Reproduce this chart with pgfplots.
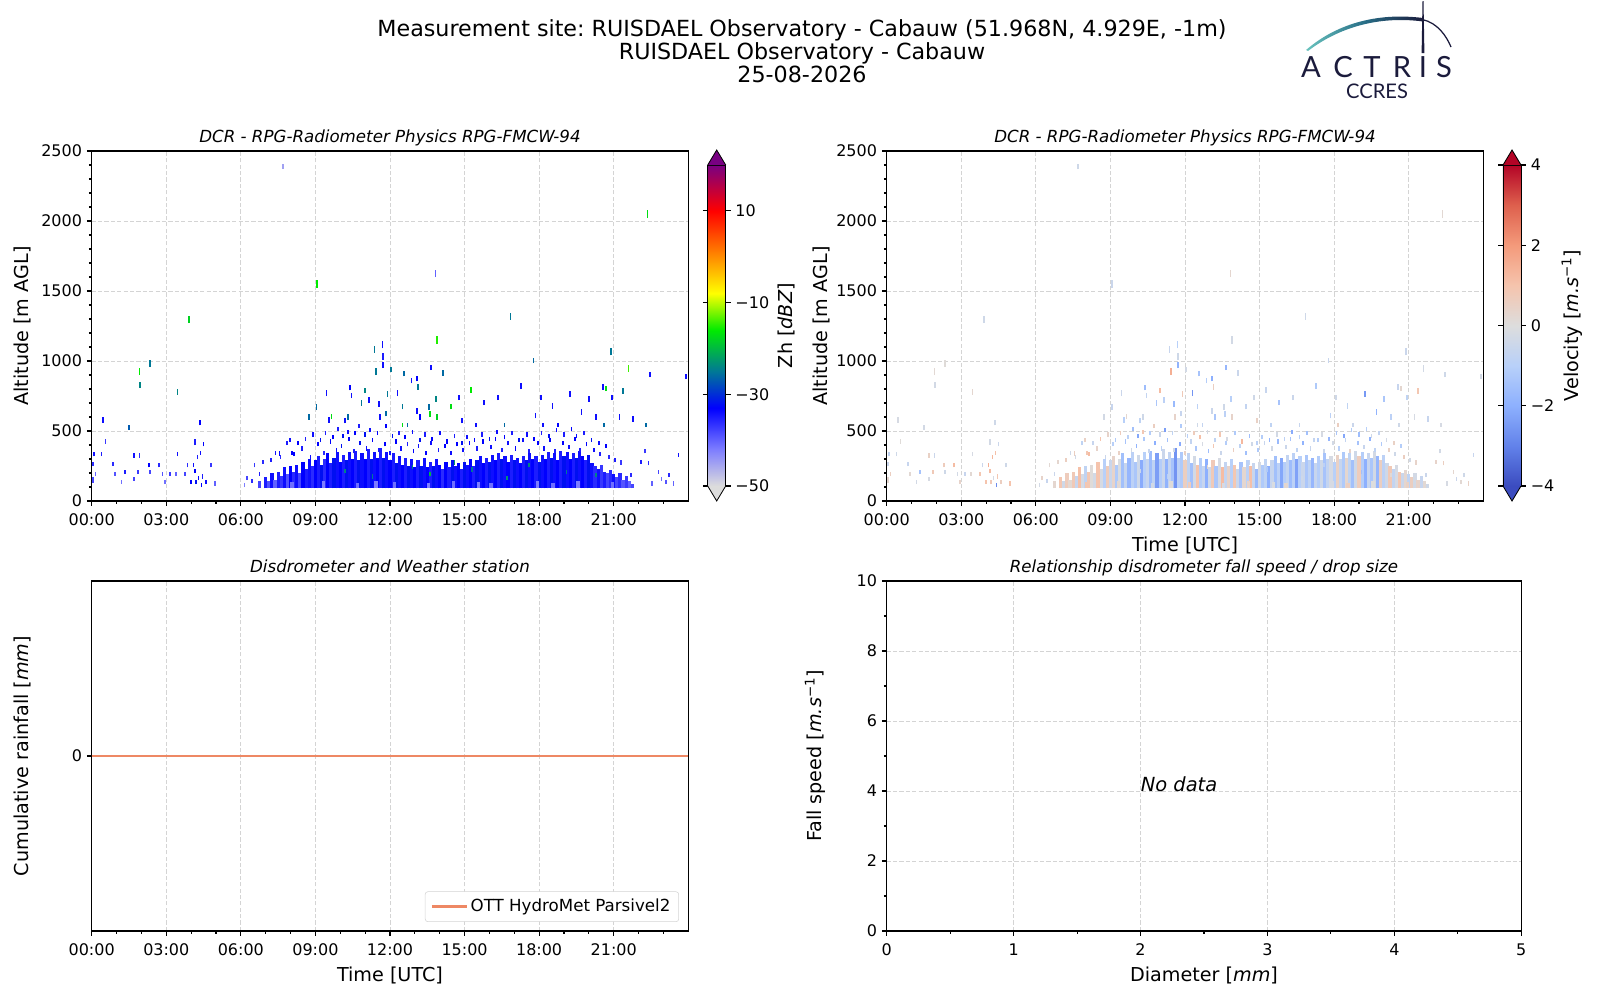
\documentclass[border=0pt]{standalone}
\usepackage{fontspec}
\setmainfont{DejaVu Sans}
\newfontfamily\logofont{Lato}
\usepackage{pgfplots}
\pgfplotsset{compat=1.18}
\usepackage{pgfplotstable}
\frenchspacing

\definecolor{gridc}{RGB}{212,212,212}
\definecolor{navy}{RGB}{27,27,60}
\definecolor{logoteal}{RGB}{105,195,190}
\definecolor{logomid}{RGB}{40,110,135}
\definecolor{rain}{RGB}{238,136,100}
\definecolor{zhmax}{RGB}{120,0,130}
\definecolor{zhmin}{RGB}{220,220,220}
\definecolor{vmax}{RGB}{180,4,38}
\definecolor{vmin}{RGB}{59,76,192}

\pgfplotsset{
 colormap={zh}{rgb255(0pt)=(220,220,220) rgb255(8pt)=(125,125,255) rgb255(17pt)=(0,0,255) rgb255(25pt)=(0,120,150) rgb255(34pt)=(0,235,0) rgb255(42pt)=(255,255,0) rgb255(50pt)=(255,140,0) rgb255(60pt)=(255,0,0) rgb255(70pt)=(120,0,130)},
 colormap={cw}{rgb255(0pt)=(59,76,192) rgb255(1pt)=(98,130,234) rgb255(2pt)=(141,176,254) rgb255(3pt)=(184,208,249) rgb255(4pt)=(221,221,221) rgb255(5pt)=(245,196,173) rgb255(6pt)=(244,154,123) rgb255(7pt)=(222,96,77) rgb255(8pt)=(180,4,38)},
}

% dense low band: time [h], bottom and top [m], Zh [dBZ], velocity [m/s]
\pgfplotstableread{
t bot top zh v
6.750 90 140 -38 0.3
7.000 90 170 -35 0.9
7.125 90 140 -39 -0.4
7.250 90 200 -34 0.7
7.375 90 150 -40 0.2
7.500 90 210 -35 0.8
7.625 90 180 -37 -0.6
7.750 90 240 -34 1.1
7.875 90 190 -39 -0.2
8.000 90 250 -33 -0.8
8.125 90 210 -36 0.9
8.250 90 260 -34 0.1
8.375 90 200 -38 -0.3
8.500 90 280 -33 1.0
8.625 90 230 -35 -0.2
8.750 90 300 -34 -1.0
8.875 90 250 -36 0.7
9.000 90 290 -33 -0.5
9.125 90 320 -35 0.4
9.250 90 260 -32 -1.2
9.375 90 300 -36 -0.1
9.500 90 340 -33 -1.5
9.625 90 270 -35 -0.6
9.750 90 310 -32 -1.8
9.875 90 350 -34 -0.9
10.000 90 280 -33 -1.3
10.125 90 330 -35 -0.4
10.250 90 290 -32 -2.1
10.375 90 350 -34 -1.0
10.500 90 300 -33 -0.6
10.625 90 360 -35 -1.6
10.750 90 290 -32 -0.8
10.875 90 340 -34 -2.4
11.000 90 300 -33 -1.1
11.125 90 370 -35 -0.5
11.250 90 300 -32 -1.9
11.375 90 350 -34 -0.7
11.500 90 310 -33 -1.4
11.625 90 380 -35 -2.6
11.750 90 310 -32 -0.9
11.875 90 350 -34 -1.2
12.000 90 290 -33 0.6
12.125 90 340 -35 -0.8
12.250 90 270 -32 -1.5
12.375 90 320 -34 -0.3
12.500 90 260 -33 1.0
12.625 90 310 -35 -1.1
12.750 90 250 -32 -0.6
12.875 90 300 -34 -2.0
13.000 90 240 -33 -0.4
13.125 90 290 -35 0.8
13.250 90 250 -32 -1.3
13.375 90 310 -34 -0.2
13.500 90 240 -33 1.2
13.625 90 280 -35 -0.7
13.750 90 250 -32 0.4
13.875 90 300 -34 -1.0
14.000 90 260 -33 0.9
14.125 90 230 -36 -0.5
14.250 90 280 -33 -1.4
14.375 90 240 -35 0.3
14.500 90 290 -32 -0.9
14.625 90 250 -34 1.1
14.750 90 270 -33 -0.6
14.875 90 230 -35 -1.7
15.000 90 280 -32 -0.3
15.125 90 260 -34 -1.2
15.250 90 300 -33 -0.8
15.375 90 250 -35 -2.0
15.500 90 290 -32 -0.6
15.625 90 320 -34 -1.5
15.750 90 270 -33 -0.9
15.875 90 310 -35 -2.2
16.000 90 280 -32 -1.1
16.125 90 330 -34 -0.7
16.250 90 290 -33 -1.6
16.375 90 340 -35 -0.9
16.500 90 300 -32 -2.3
16.625 90 320 -34 -1.0
16.750 90 280 -33 -0.5
16.875 90 330 -35 -1.3
17.000 90 290 -32 -0.8
17.125 90 310 -34 -1.8
17.250 90 270 -33 -0.6
17.375 90 320 -35 -1.1
17.500 90 290 -32 -0.4
17.625 90 340 -34 -1.4
17.750 90 300 -33 -0.7
17.875 90 320 -35 -0.2
18.000 90 280 -32 -1.0
18.125 90 330 -34 0.5
18.250 90 300 -33 -0.6
18.375 90 350 -35 -1.2
18.500 90 310 -32 0.3
18.625 90 340 -34 -0.8
18.750 90 290 -33 -1.5
18.875 90 360 -35 -0.4
19.000 90 320 -32 0.7
19.125 90 350 -34 -1.1
19.250 90 300 -33 -2.0
19.375 90 340 -35 -0.6
19.500 90 310 -32 -1.3
19.625 90 360 -34 -0.3
19.750 90 320 -33 -1.8
19.875 90 290 -35 0.6
20.000 90 330 -32 -0.9
20.125 90 270 -34 -0.4
20.250 90 250 -36 0.8
20.375 90 230 -34 -0.7
20.500 90 260 -37 -0.2
20.625 90 210 -35 0.9
20.750 90 200 -38 -0.5
20.875 90 220 -36 0.3
21.000 90 190 -34 -0.8
21.125 90 170 -38 0.6
21.250 90 200 -36 -0.3
21.375 90 150 -39 0.4
21.500 90 180 -37 -0.6
21.625 90 140 -40 0.2
21.750 90 120 -38 -0.4
8.06 90 135 -41 0.9
9.31 90 140 -42 0.2
10.69 90 130 -41 -0.3
11.44 90 140 -42 0.1
12.19 90 135 -41 0.7
13.56 90 130 -42 -0.2
14.56 90 140 -41 0.4
15.56 90 135 -42 -0.1
16.06 90 130 -41 0.3
17.94 90 140 -42 -0.2
18.56 90 130 -41 0.6
19.56 90 140 -42 0.0
20.94 90 135 -41 0.5
}\dense

% isolated range gates: time [h], base [m], depth [m], Zh [dBZ], velocity [m/s]
\pgfplotstableread{
t z d zh v
0.05 130 40 -38 0.3
0.05 250 30 -36 -0.5
0.10 320 30 -34 -0.8
0.15 180 30 -40 0.6
0.40 320 30 -35 -0.4
0.45 560 40 -34 -0.2
0.55 410 30 -37 0.1
0.85 250 30 -36 -0.6
0.95 180 30 -39 0.2
1.20 120 30 -41 -0.3
1.35 195 30 -35 -1.4
1.50 510 30 -27 -0.3
1.70 310 30 -34 0.5
1.70 145 30 -38 -0.2
1.85 195 30 -37 0.8
1.92 310 30 -36 -0.5
1.92 900 50 -16 0.2
1.95 810 40 -24 -0.3
2.30 240 30 -33 0.7
2.35 195 30 -38 -0.4
2.35 960 50 -25 0.1
2.70 240 30 -36 1.2
2.85 180 30 -39 -0.3
2.95 120 30 -41 0.4
3.15 180 30 -37 -0.6
3.40 180 30 -40 0.2
3.45 320 30 -34 -0.2
3.45 760 40 -24 0.3
3.75 180 30 -38 0.9
3.85 240 30 -36 -0.5
3.92 1270 50 -18 -0.4
4.00 120 30 -33 1.0
4.10 240 30 -34 1.5
4.15 400 40 -35 -0.3
4.15 200 30 -33 1.2
4.20 120 30 -32 0.8
4.25 300 30 -35 1.3
4.30 150 30 -33 -0.2
4.35 540 40 -33 -0.4
4.38 330 30 -34 1.1
4.42 100 30 -33 -2.8
4.46 160 30 -35 0.9
4.50 390 30 -33 -0.5
4.60 120 30 -34 0.6
4.80 240 30 -37 -0.4
4.95 110 30 -40 1.0
6.15 100 30 -42 -0.3
6.25 150 30 -38 0.4
6.45 130 30 -36 -0.6
6.55 240 30 -37 0.2
6.75 180 30 -35 -0.5
6.90 265 30 -36 0.3
7.20 280 30 -35 0.6
7.40 330 30 -34 -0.4
7.55 325 30 -33 0.6
7.60 300 30 -36 -0.3
7.70 2370 40 -45 -0.4
7.85 400 30 -35 -0.8
7.97 420 30 -34 0.5
8.05 330 30 -33 0.9
8.15 320 30 -33 1.2
8.30 400 30 -33 -0.6
8.45 360 30 -35 0.4
8.60 430 30 -35 1.0
8.75 580 40 -26 -0.3
8.80 300 30 -34 -0.5
8.90 460 30 -34 0.4
9.05 650 40 -26 -0.6
9.07 1520 60 -16 -0.5
9.10 390 30 -33 -1.0
9.20 420 30 -32 -1.2
9.35 330 30 -36 0.5
9.40 470 30 -35 0.7
9.45 750 40 -34 -0.5
9.55 560 40 -34 -1.0
9.60 410 30 -33 -1.4
9.65 585 40 -17 0.3
9.70 440 30 -33 -0.9
9.85 350 30 -34 -0.3
9.90 500 30 -35 -1.5
10.05 380 30 -32 -1.9
10.10 450 30 -32 -2.2
10.20 555 40 -34 -0.8
10.20 200 30 -24 -0.5
10.30 480 30 -34 0.9
10.30 580 40 -26 -0.4
10.35 430 30 -33 -1.2
10.40 790 40 -33 -1.6
10.45 735 40 -34 -0.7
10.55 340 30 -35 -0.6
10.60 470 30 -33 -1.1
10.75 520 30 -35 0.6
10.80 400 30 -32 -2.0
10.85 680 40 -25 -1.3
11.00 460 30 -32 -0.5
11.00 770 40 -24 1.2
11.05 360 30 -34 -0.9
11.15 700 40 -34 -0.9
11.20 490 30 -34 -2.4
11.30 160 30 -25 -1.0
11.30 420 30 -33 -1.5
11.38 1060 50 -25 -0.6
11.45 900 50 -25 1.5
11.50 470 30 -33 -0.8
11.55 350 30 -35 -0.4
11.55 675 40 -34 -1.7
11.60 580 40 -34 0.4
11.70 1090 50 -34 -1.0
11.72 1010 50 -35 -0.4
11.72 950 40 -34 -1.9
11.80 390 30 -33 -2.1
11.85 605 40 -26 -0.6
11.85 520 30 -33 -1.2
11.90 745 40 -25 0.8
12.00 330 30 -34 0.5
12.05 920 40 -25 -0.3
12.10 450 30 -32 -1.0
12.25 410 30 -33 -0.7
12.30 750 40 -34 -2.6
12.35 470 30 -35 0.7
12.45 360 30 -34 -1.3
12.50 655 40 -25 -0.9
12.50 530 30 -17 -0.4
12.57 890 40 -26 -1.4
12.60 440 30 -33 1.1
12.70 530 30 -26 -0.7
12.70 390 30 -35 -0.2
12.86 840 40 -34 -1.1
12.90 480 30 -34 -0.3
12.90 230 30 -24 0.3
12.95 340 30 -33 -1.6
13.08 855 40 -33 -2.0
13.08 625 40 -34 -0.5
13.14 795 40 -25 0.6
13.15 380 30 -34 0.9
13.20 420 30 -32 -0.8
13.20 580 40 -33 -1.3
13.40 460 30 -35 0.9
13.45 330 30 -33 -0.5
13.58 650 40 -26 -0.4
13.60 600 40 -17 -0.9
13.60 180 30 -20 -0.7
13.65 400 30 -34 -1.1
13.66 935 40 -34 -1.8
13.70 430 30 -33 -0.2
13.83 1600 50 -40 0.3
13.85 710 40 -24 -1.0
13.90 1120 60 -15 -0.3
13.90 580 40 -18 0.4
13.95 350 30 -35 0.6
14.00 470 30 -34 -1.2
14.12 895 40 -26 -0.5
14.20 380 30 -33 -0.8
14.30 410 30 -33 1.3
14.45 330 30 -34 -1.5
14.46 655 40 -17 -0.7
14.60 450 30 -35 -1.6
14.60 260 30 -22 -0.6
14.70 390 30 -33 -0.4
14.77 720 40 -34 -0.4
14.90 400 30 -32 -0.9
14.90 555 40 -34 0.5
14.95 350 30 -34 -1.2
15.10 440 30 -34 -1.1
15.20 400 30 -33 -0.6
15.26 775 40 -16 -0.6
15.30 210 30 -25 -1.2
15.40 420 30 -33 -1.9
15.45 530 30 -34 -0.8
15.50 360 30 -35 -0.3
15.70 460 30 -35 -0.3
15.75 410 30 -33 -1.7
15.77 685 40 -34 -1.4
16.00 430 30 -32 -0.9
16.05 370 30 -34 -0.5
16.25 430 30 -33 -1.4
16.30 480 30 -34 -2.1
16.35 720 40 -34 -0.5
16.50 350 30 -35 -0.8
16.60 440 30 -33 -1.0
16.60 530 30 -26 -0.6
16.70 150 30 -23 -0.4
16.75 400 30 -34 -1.9
16.85 1295 50 -25 -0.4
16.90 470 30 -35 -1.5
17.05 360 30 -33 -0.6
17.20 420 30 -32 -0.7
17.28 800 40 -34 -1.2
17.35 420 30 -34 -1.1
17.50 460 30 -34 -0.2
17.60 240 30 -24 -0.9
17.60 340 30 -35 -0.5
17.77 985 40 -26 -0.6
17.80 430 30 -33 -1.8
17.85 590 40 -34 -0.9
17.95 400 30 -33 -0.3
18.08 720 40 -34 -0.4
18.10 470 30 -35 -1.3
18.15 530 30 -34 0.6
18.20 360 30 -34 -1.0
18.40 450 30 -32 -2.2
18.45 420 30 -33 -0.7
18.54 660 40 -34 -0.8
18.65 340 30 -35 0.4
18.70 490 30 -34 -1.1
18.77 530 30 -33 -0.5
18.95 400 30 -33 -1.4
19.00 460 30 -35 -1.6
19.10 190 30 -25 -1.5
19.20 370 30 -34 -0.6
19.23 745 40 -34 -2.5
19.30 500 30 -33 -1.0
19.45 430 30 -33 -1.9
19.50 450 30 -34 -0.4
19.65 350 30 -35 -0.8
19.70 615 40 -34 -1.9
19.80 470 30 -35 -0.7
19.90 390 30 -33 -1.2
20.00 710 40 -34 -1.3
20.10 420 30 -32 -0.3
20.20 350 30 -34 0.5
20.30 580 40 -34 -0.9
20.30 170 30 -24 0.2
20.40 400 30 -34 0.5
20.45 320 30 -35 -0.4
20.58 795 40 -34 -0.6
20.60 530 30 -26 -0.4
20.70 380 30 -33 -1.1
20.70 785 40 -17 0.3
20.80 300 30 -36 0.6
20.90 1040 50 -25 -0.5
20.92 720 40 -34 -0.8
21.05 280 30 -35 -0.3
21.23 580 40 -34 -0.2
21.30 260 30 -37 0.4
21.38 765 40 -25 0.9
21.60 920 50 -14 -0.3
21.70 170 30 -36 -0.5
21.77 565 40 -34 -0.6
22.10 265 30 -35 0.4
22.26 340 30 -37 -0.3
22.30 530 30 -26 -0.2
22.36 2020 60 -17 0.2
22.40 255 30 -36 0.6
22.46 885 40 -34 -0.4
22.55 110 30 -40 -0.2
22.80 195 30 -38 0.3
22.92 145 30 -41 -0.5
23.10 120 30 -39 0.2
23.23 170 30 -36 -0.4
23.40 110 30 -40 0.5
23.60 315 30 -34 -0.6
23.90 870 40 -34 -0.3
}\sparse

\pgfplotsset{
 common/.style={
  scale only axis, width=429.55pt, height=252pt,
  tick align=outside, tick pos=left,
  major tick length=3.5pt, minor tick length=2pt,
  tick style={black, line width=0.8pt},
  axis line style={line width=0.8pt},
  grid=major, major grid style={gridc, dash pattern=on 3pt off 1.6pt, line width=0.7pt},
  tick label style={font=\fontsize{11.5}{13}\selectfont},
  xticklabel style={yshift=-2pt},
  label style={font=\fontsize{13.8}{16}\selectfont},
  title style={font=\fontsize{12}{14}\selectfont\itshape, at={(axis description cs:0.5,1)}, anchor=base, yshift=0pt},
  ylabel style={at={(axis description cs:0,0.5)}, anchor=center, yshift=49.8pt},
  xlabel style={at={(axis description cs:0.5,0)}, anchor=center, yshift=-32pt},
  scaled ticks=false,
 },
 timeaxis/.style={xmin=0, xmax=24, xtick={0,3,...,21},
  xticklabels={00:00,03:00,06:00,09:00,12:00,15:00,18:00,21:00},
  minor xtick={1,2,4,5,7,8,10,11,13,14,16,17,19,20,22,23}},
 altaxis/.style={ymin=0, ymax=2500, ytick={0,500,...,2500},
  yticklabels={0,500,1000,1500,2000,2500},
  minor ytick={100,200,300,400,600,700,800,900,1100,1200,1300,1400,1600,1700,1800,1900,2100,2200,2300,2400},
  ylabel={Altitude [m AGL]}, title={DCR - RPG-Radiometer Physics RPG-FMCW-94}},
 cbar/.style={
  at={(parent axis.north east)}, anchor=north west,
  width=12.96pt, height=231.12pt,
  tick align=outside, major tick length=3.5pt,
  tick style={black, line width=0.8pt},
  axis line style={line width=0.6pt},
  yticklabel style={font=\fontsize{11.5}{13}\selectfont},
  ylabel style={font=\fontsize{13.8}{16}\selectfont, at={(axis description cs:1,0.5)}, anchor=center},
 },
}

\begin{document}
\begin{tikzpicture}
\path[use as bounding box] (0,0) rectangle (1152pt,-720pt);

% ---------- top left: reflectivity
\begin{axis}[common, timeaxis, altaxis,
  at={(66.02pt,-360.72pt)}, anchor=south west,
  colormap name=zh, point meta min=-50, point meta max=20,
  colorbar,
  colorbar style={cbar, xshift=5.43pt, yshift=-10.08pt,
    ytick={-50,-30,-10,10}, yticklabels={−50,−30,−10,10},
    ylabel={Zh [\textit{dBZ}]}, ylabel style={yshift=-43.6pt}},
]
\addplot[line width=2.3pt, point meta=\thisrow{zh},
  quiver={u=0, v=\thisrow{top}-\thisrow{bot}, colored=mapped color}]
  table[x=t, y=bot] {\dense};
\addplot[line width=1.2pt, point meta=\thisrow{zh},
  quiver={u=0, v=\thisrow{d}, colored=mapped color}]
  table[x=t, y=z] {\sparse};
\end{axis}

% ---------- top right: velocity
\begin{axis}[common, timeaxis, altaxis,
  at={(638.42pt,-360.72pt)}, anchor=south west,
  ylabel style={yshift=-2.5pt},
  xlabel={Time [UTC]},
  colormap name=cw, point meta min=-4, point meta max=4,
  colorbar,
  colorbar style={cbar, xshift=5.64pt, yshift=-10.08pt,
    ytick={-4,-2,0,2,4}, yticklabels={−4,−2,0,2,4},
    ylabel={Velocity [\textit{m.s}\textsuperscript{−1}]}, ylabel style={yshift=-36.8pt}},
]
\addplot[line width=2.3pt, point meta=\thisrow{v},
  quiver={u=0, v=\thisrow{top}-\thisrow{bot}, colored=mapped color}]
  table[x=t, y=bot] {\dense};
\addplot[line width=1.2pt, point meta=\thisrow{v},
  quiver={u=0, v=\thisrow{d}, colored=mapped color}]
  table[x=t, y=z] {\sparse};
\end{axis}

% ---------- bottom left: rainfall
\begin{axis}[common, timeaxis,
  at={(66.02pt,-670.32pt)}, anchor=south west,
  ymin=-0.055, ymax=0.055, ytick={0}, yticklabels={0},
  xlabel={Time [UTC]}, ylabel={Cumulative rainfall [\textit{mm}]},
  title={Disdrometer and Weather station},
  legend cell align=left,
  legend style={at={(1,0)}, anchor=south east, xshift=-6.7pt, yshift=6.5pt,
    draw=gridc, rounded corners=2pt, font=\fontsize{12}{14}\selectfont,
    inner xsep=4pt, inner ysep=3.5pt},
  legend image code/.code={\draw[#1] (0pt,0pt) -- (25pt,0pt);},
]
\addplot[color=rain, line width=1.8pt] coordinates {(0,0) (6,0) (12,0) (18,0) (24,0)};
\addlegendentry{OTT HydroMet Parsivel2}
\end{axis}

% ---------- bottom right: fall speed vs size
\begin{axis}[common,
  at={(638.42pt,-670.32pt)}, anchor=south west, width=456.91pt,
  xmin=0, xmax=5, ymin=0, ymax=10,
  xtick={0,1,2,3,4,5}, xticklabels={0,1,2,3,4,5}, minor xtick={0.5,1.5,2.5,3.5,4.5},
  ytick={0,2,4,6,8,10}, yticklabels={0,2,4,6,8,10}, minor ytick={1,3,5,7,9},
  xlabel={Diameter [\textit{mm}]}, ylabel={Fall speed [\textit{m.s}\textsuperscript{−1}]},
  ylabel style={yshift=1.5pt},
  title={Relationship disdrometer fall speed / drop size},
]
\node[anchor=west, inner sep=0pt, font=\fontsize{14}{16}\selectfont\itshape] at (axis cs:2,4.2) {No data};
\end{axis}

% ---------- colorbar extensions, titles and logo (pixel coordinates)
\begin{scope}[x=0.72pt, y=-0.72pt]
\fill[zhmax] (707.7,165) -- (716.7,150) -- (725.7,165) -- cycle;
\fill[zhmin] (707.7,486) -- (716.7,501) -- (725.7,486) -- cycle;
\draw[line width=0.6pt] (707.7,165) -- (716.7,150) -- (725.7,165);
\draw[line width=0.6pt] (707.7,486) -- (716.7,501) -- (725.7,486);
\fill[vmax] (1503,165) -- (1512,150) -- (1521,165) -- cycle;
\fill[vmin] (1503,486) -- (1512,501) -- (1521,486) -- cycle;
\draw[line width=0.6pt] (1503,165) -- (1512,150) -- (1521,165);
\draw[line width=0.6pt] (1503,486) -- (1512,501) -- (1521,486);

\node[anchor=base, font=\fontsize{16}{18}\selectfont] at (802,36) {Measurement site: RUISDAEL Observatory - Cabauw (51.968N, 4.929E, -1m)};
\node[anchor=base, font=\fontsize{16}{18}\selectfont] at (802,59) {RUISDAEL Observatory - Cabauw};
\node[anchor=base, font=\fontsize{16}{18}\selectfont] at (802,82.5) {25-08-2026};

\shade[left color=logoteal, right color=navy, middle color=logomid]
  (1306,50) .. controls (1335,25) and (1375,12) .. (1423,18) -- (1423,21.5)
  .. controls (1378,15.5) and (1338,28) .. (1308,51) -- cycle;
\draw[navy, line width=0.9pt] (1423,19.7) .. controls (1437,23) and (1446,35) .. (1451,47);
\fill[navy] (1422.5,1) -- (1423.5,1) -- (1424.4,53) -- (1421.6,53) -- cycle;
\foreach \l/\px in {A/1311,C/1343,T/1372,R/1402,I/1423,S/1444}
  \node[anchor=base, inner sep=0pt, text=navy, font=\logofont\fontsize{21}{22}\selectfont] at (\px,77) {\l};
\node[anchor=base, inner sep=0pt, text=navy, font=\logofont\fontsize{14.5}{16}\selectfont] at (1377,98) {CCRES};
\end{scope}
\end{tikzpicture}
\end{document}
